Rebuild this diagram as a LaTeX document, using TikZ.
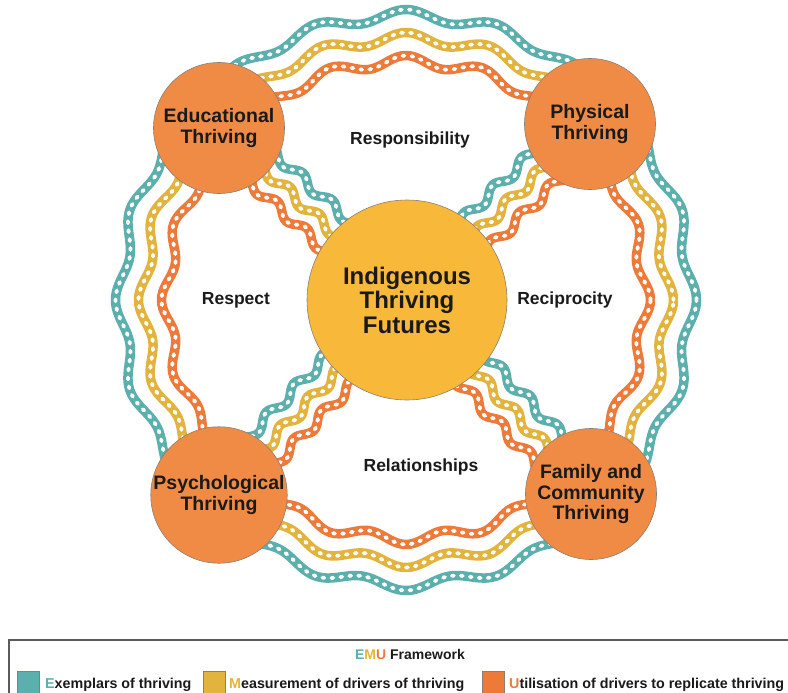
\documentclass[tikz,border=0pt]{standalone}
\usepackage{fontspec}
\setmainfont{Liberation Sans}
\usetikzlibrary{calc,decorations.pathmorphing,backgrounds}
\definecolor{cteal}{HTML}{5BB0AD}
\definecolor{cyel}{HTML}{E3B43D}
\definecolor{corg}{HTML}{EE7A3A}
\definecolor{ccirc}{HTML}{F08B46}
\definecolor{cctr}{HTML}{F8B93B}
\definecolor{cedge}{HTML}{8A7F75}
\definecolor{ctext}{HTML}{1A1A1A}
\definecolor{cframe}{HTML}{5A5A5A}
\newcommand{\cx}{406}
\newcommand{\cy}{300}
\tikzset{
  dots/.style={draw=white, line width=3.8pt, dash pattern=on 2pt off 7pt, line cap=round},
  wavy/.style={decorate, decoration={snake, amplitude=4.5pt, segment length=40pt}},
  corner/.style={circle, fill=ccirc, draw=cedge, line width=0.6pt, minimum size=131pt,
    inner sep=0pt, align=center, font=\fontsize{19.5}{20.5}\selectfont\bfseries, text=ctext},
  hub/.style={circle, fill=cctr, draw=cedge, line width=0.6pt, minimum size=200pt,
    inner sep=0pt, align=center, font=\fontsize{24}{24.5}\selectfont\bfseries, text=ctext},
  value/.style={font=\fontsize{17.5}{18}\selectfont\bfseries, text=ctext},
  legtext/.style={anchor=base west, font=\fontsize{14.3}{15}\selectfont\bfseries, text=ctext, inner sep=0pt},
  swatch/.style={minimum size=22pt, inner sep=0pt, draw=cedge, line width=0.4pt, anchor=north west},
}
% ring band: colour, radius
\newcommand{\ringband}[2]{%
  \draw[draw=#1, line width=9.5pt, line join=round, postaction={dots}]
    plot[smooth, samples=361, domain=0:360, variable=\t]
    ({\cx+(#2+5.5*cos(20*\t))*cos(\t)},{\cy-(#2+5.5*cos(20*\t))*sin(\t)});
}
% diagonal band: colour, from, to, signed offset
\newcommand{\diagband}[4]{%
  \draw[draw=#1, line width=9.5pt, wavy] ($(#2.center)!#4!90:(#3.center)$) -- ($(#3.center)!#4!-90:(#2.center)$);
  \draw[dots, wavy] ($(#2.center)!#4!90:(#3.center)$) -- ($(#3.center)!#4!-90:(#2.center)$);
}
\begin{document}
\begin{tikzpicture}[x=1pt,y=-1pt]
\useasboundingbox (0,0) rectangle (788,693);
% nodes
\node[hub] (ctr) at (407,300) {Indigenous\\Thriving\\Futures};
\node[corner] (edu) at (219,128) {Educational\\Thriving};
\node[corner] (phys) at (590,124) {Physical\\Thriving};
\node[corner] (psych) at (219,495) {Psychological\\Thriving};
\node[corner] (fam) at (591,494) {Family and\\Community\\Thriving};
% bands behind
\begin{scope}[on background layer]
  \ringband{cteal}{285}
  \ringband{cyel}{262}
  \ringband{corg}{239}
  \diagband{cteal}{edu}{ctr}{19pt}
  \diagband{cyel}{edu}{ctr}{0pt}
  \diagband{corg}{edu}{ctr}{-19pt}
  \diagband{cteal}{phys}{ctr}{-19pt}
  \diagband{cyel}{phys}{ctr}{0pt}
  \diagband{corg}{phys}{ctr}{19pt}
  \diagband{cteal}{psych}{ctr}{19pt}
  \diagband{cyel}{psych}{ctr}{0pt}
  \diagband{corg}{psych}{ctr}{-19pt}
  \diagband{cteal}{fam}{ctr}{-19pt}
  \diagband{cyel}{fam}{ctr}{0pt}
  \diagband{corg}{fam}{ctr}{19pt}
\end{scope}
% values
\node[value] (resp) at (410,140) {Responsibility};
\node[value] (respe) at (236,300) {Respect};
\node[value] (reci) at (565,300) {Reciprocity};
\node[value] (rela) at (421,467) {Relationships};
% legend
\draw[cframe, line width=2pt] (9,640) rectangle (800,710);
\node[font=\fontsize{14}{15}\selectfont\bfseries, text=ctext] (emu) at (410,654)
  {{\color{cteal}E}{\color{cyel}M}{\color{corg}U} Framework};
\node[swatch, fill=cteal] (sw1) at (17,671) {};
\node[legtext] (lg1) at (45,688) {{\color{cteal}E}xemplars of thriving};
\node[swatch, fill=cyel] (sw2) at (203,671) {};
\node[legtext] (lg2) at (229,688) {{\color{cyel}M}easurement of drivers of thriving};
\node[swatch, fill=corg] (sw3) at (482,671) {};
\node[legtext] (lg3) at (509,688) {{\color{corg}U}tilisation of drivers to replicate thriving};
\end{tikzpicture}
\end{document}
